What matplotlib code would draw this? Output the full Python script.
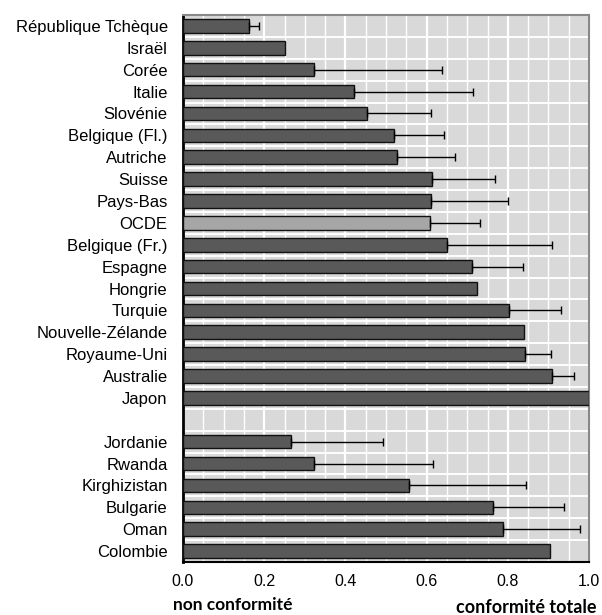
import numpy as np
import matplotlib.pyplot as plt
from matplotlib.ticker import MultipleLocator, FixedLocator

# Data (gap row between OECD and partner countries)
countries_oecd = ['République Tchèque', 'Israël', 'Corée', 'Italie', 'Slovénie',
                  'Belgique (Fl.)', 'Autriche', 'Suisse', 'Pays-Bas', 'OCDE',
                  'Belgique (Fr.)', 'Espagne', 'Hongrie', 'Turquie',
                  'Nouvelle-Zélande', 'Royaume-Uni', 'Australie', 'Japon']
values_oecd = [0.163, 0.252, 0.323, 0.420, 0.452, 0.519, 0.526, 0.613, 0.612,
               0.609, 0.650, 0.712, 0.724, 0.802, 0.840, 0.843, 0.910, 1.0]
err_oecd = [0.025, 0.0, 0.314, 0.294, 0.160, 0.125, 0.144, 0.156, 0.189,
            0.122, 0.260, 0.125, 0.0, 0.128, 0.0, 0.064, 0.052, 0.0]

countries_partner = ['Jordanie', 'Rwanda', 'Kirghizistan', 'Bulgarie', 'Oman', 'Colombie']
values_partner = [0.266, 0.323, 0.557, 0.764, 0.788, 0.904]
err_partner = [0.227, 0.293, 0.289, 0.175, 0.191, 0.0]

xticks = [0.0, 0.2, 0.4, 0.6, 0.8, 1.0]

labels = countries_oecd + [''] + countries_partner
values = values_oecd + [np.nan] + values_partner
errs = err_oecd + [0.0] + err_partner
pos = np.arange(len(labels))

colors = ['#a6a6a6' if c == 'OCDE' else '#595959' for c in labels]

fig = plt.figure(figsize=(6.02, 6.15), dpi=100)
ax = fig.add_axes([183 / 602, 1 - 562 / 615, 406 / 602, 547 / 615])
ax.set_facecolor('#d9d9d9')

vals = np.array(values, dtype=float)
mask = ~np.isnan(vals)
ax.barh(pos[mask], vals[mask], height=0.62, color=np.array(colors)[mask],
        edgecolor='#111111', linewidth=1.0, zorder=3)

e = np.array(errs)
emask = mask & (e > 0)
ax.errorbar(vals[emask], pos[emask], xerr=[np.zeros(emask.sum()), e[emask]],
            fmt='none', ecolor='black', elinewidth=1.0, capsize=3, capthick=1.0, zorder=4)

ax.set_xlim(0, 1)
ax.set_ylim(len(labels) - 0.5, -0.5)
ax.set_xticks(xticks)
ax.set_xticklabels([f'{v:.1f}' for v in xticks], fontsize=11.5, family='Liberation Sans')
ax.xaxis.set_minor_locator(MultipleLocator(0.05))
ax.set_yticks(pos)
ax.set_yticklabels(labels, fontsize=12, family='Liberation Sans')
ax.yaxis.set_minor_locator(FixedLocator(np.arange(len(labels) + 1) - 0.5))

ax.grid(True, axis='x', which='major', color='white', linewidth=1.6, zorder=0)
ax.grid(True, axis='x', which='minor', color='white', linewidth=1.0, zorder=0)
ax.grid(True, axis='y', which='minor', color='white', linewidth=1.4, zorder=0)
ax.set_axisbelow(True)

ax.tick_params(axis='both', which='both', length=0)
ax.tick_params(axis='y', pad=11)
ax.tick_params(axis='x', pad=9)

ax.spines['left'].set_color('black')
ax.spines['left'].set_linewidth(2)
ax.spines['bottom'].set_color('black')
ax.spines['bottom'].set_linewidth(1.5)
for s in ['top', 'right']:
    ax.spines[s].set_color('#888888')
    ax.spines[s].set_linewidth(1.5)

fig.text(173 / 602, 1 - 610 / 615, 'non conformité', fontsize=12.5, fontweight='bold',
         family='Lato', ha='left', va='baseline')
fig.text(597 / 602, 1 - 613 / 615, 'conformité totale', fontsize=13, fontweight='bold',
         family='Lato', ha='right', va='baseline')

fig.savefig('out.png', dpi=100)
